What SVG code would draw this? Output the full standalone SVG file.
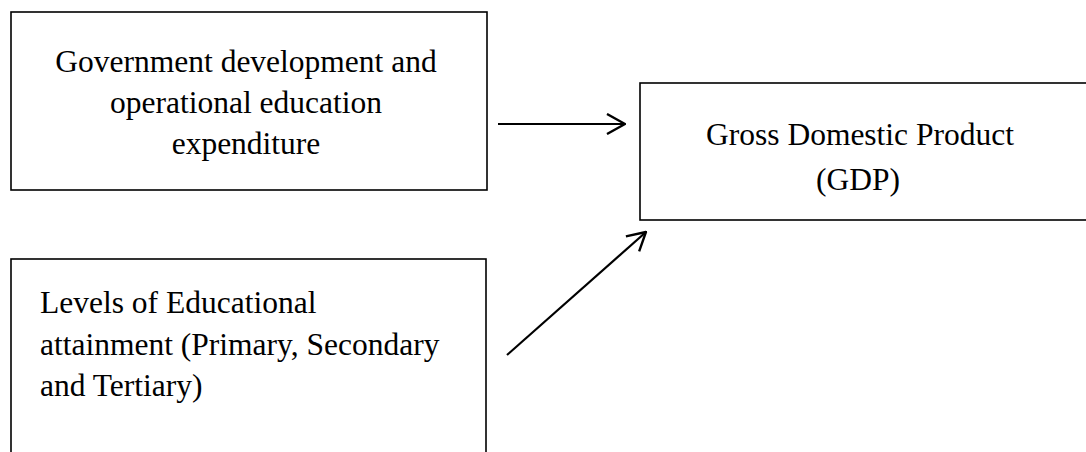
<svg xmlns="http://www.w3.org/2000/svg" width="1086" height="452" viewBox="0 0 1086 452">
<style>
.box{fill:#fff;stroke:#000;stroke-width:1.6}
.t{font-family:"Liberation Serif","Times New Roman",serif;font-size:31.5px;fill:#000}
.c{text-anchor:middle}
.conn{stroke:#000;stroke-width:2.2;fill:none}
</style>
<defs>
<marker id="arr" viewBox="0 0 20 22" refX="19" refY="11" markerWidth="20" markerHeight="22" markerUnits="userSpaceOnUse" orient="auto">
<path d="M1,1 L19,11 L1,21" fill="none" stroke="#000" stroke-width="2.4"/>
</marker>
</defs>
<rect width="1086" height="452" fill="#fff"/>
<g id="node-expenditure">
<rect class="box" x="11" y="12" width="476" height="178"/>
<text class="t c" x="246" y="72">Government development and</text>
<text class="t c" x="246" y="113">operational education</text>
<text class="t c" x="246" y="154">expenditure</text>
</g>
<g id="node-gdp">
<rect class="box" x="640" y="83" width="460" height="137"/>
<text class="t c" x="860" y="145">Gross Domestic Product</text>
<text class="t c" x="858" y="190">(GDP)</text>
</g>
<g id="node-attainment">
<rect class="box" x="11" y="259" width="475" height="210"/>
<text class="t" x="40" y="313">Levels of Educational</text>
<text class="t" x="40" y="355">attainment (Primary, Secondary</text>
<text class="t" x="40" y="396">and Tertiary)</text>
</g>
<g id="connectors">
<line class="conn" x1="498" y1="124" x2="625" y2="124" marker-end="url(#arr)"/>
<line class="conn" x1="507" y1="355" x2="646" y2="232" marker-end="url(#arr)"/>
</g>
</svg>
